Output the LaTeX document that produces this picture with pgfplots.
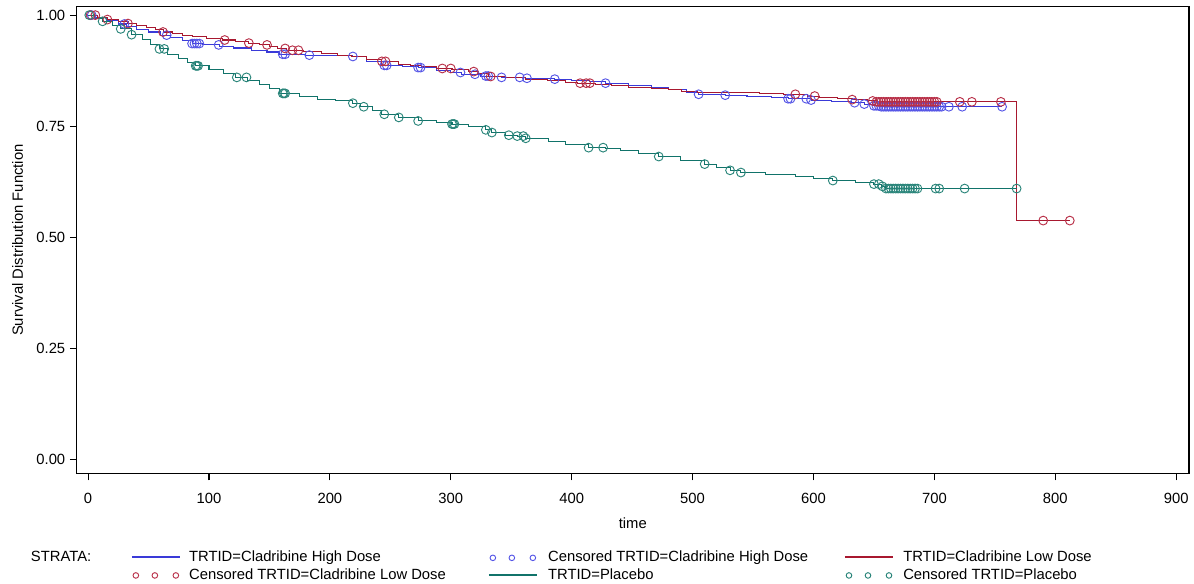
\documentclass[border=0pt]{standalone}
\usepackage{pgfplots}
\pgfplotsset{compat=1.18}
\usepackage{fontspec}
\setmainfont{Liberation Sans}
\usetikzlibrary{calc}
\definecolor{hiline}{HTML}{3A3AD8}
\definecolor{himark}{HTML}{5555E6}
\definecolor{loline}{HTML}{A8182F}
\definecolor{lomark}{HTML}{B83048}
\definecolor{plline}{HTML}{11736A}
\definecolor{plmark}{HTML}{2A857A}
\newcommand{\fs}{\fontsize{11.1}{13}\selectfont}
\begin{document}
\begin{tikzpicture}
\begin{axis}[
  name=ax,
  scale only axis,
  width=834.3pt, height=350.25pt,
  xmin=-9.5, xmax=910.6, ymin=-0.031, ymax=1.019,
  xtick={0,100,...,900},
  ytick={0,0.25,0.5,0.75,1},
  xtick pos=bottom, ytick pos=left,
  tick align=outside,
  major tick length=5pt,
  axis line style={line width=0.8pt},
  tick style={line width=0.8pt, black},
  /pgf/number format/assume math mode=true,
  tick label style={font=\fs},
  yticklabel style={/pgf/number format/fixed, /pgf/number format/fixed zerofill, /pgf/number format/precision=2},
  xticklabel style={yshift=-6pt},
  xlabel={time}, ylabel={Survival Distribution Function},
  label style={font=\fs},
  xlabel style={at={(axis description cs:0.5,-0.107)}, anchor=center},
  ylabel style={at={(axis description cs:-0.053,0.5)}, anchor=center},
  legend columns=4,
  legend cell align=left,
  legend style={draw=none, fill=none, inner sep=0pt, outer sep=0pt, column sep=0pt, row sep=2.5pt,
    at={(axis description cs:-0.041,-0.165)}, anchor=north west,
    font=\fs, nodes={inner sep=0pt, text height=8.3pt, text depth=2.4pt}},
]
% legend
\addlegendimage{empty legend}
\addlegendentry{\makebox[75pt][l]{STRATA:}}
\addlegendimage{legend image code/.code={\path (0pt,0pt) (42.75pt,0pt); \draw[draw=hiline, line width=1.3pt] (0pt,0.4pt) -- (36pt,0.4pt);}}
\addlegendentry{\makebox[224.25pt][l]{TRTID=Cladribine High Dose}}
\addlegendimage{legend image code/.code={\path (0pt,0pt) (44.25pt,0pt); \draw[draw=himark, line width=0.7pt] plot[only marks, mark=o, mark size=2.1pt] coordinates {(3pt,0pt) (17.25pt,0pt) (33pt,0pt)};}}
\addlegendentry{\makebox[222pt][l]{Censored TRTID=Cladribine High Dose}}
\addlegendimage{legend image code/.code={\path (0pt,0pt) (43.5pt,0pt); \draw[draw=loline, line width=1.3pt] (0pt,0.4pt) -- (36pt,0.4pt);}}
\addlegendentry{TRTID=Cladribine Low Dose}
\addlegendimage{empty legend}
\addlegendentry{\makebox[75pt][l]{}}
\addlegendimage{legend image code/.code={\path (0pt,0pt) (42.75pt,0pt); \draw[draw=lomark, line width=0.7pt] plot[only marks, mark=o, mark size=2.1pt] coordinates {(3pt,0pt) (17.25pt,0pt) (33pt,0pt)};}}
\addlegendentry{\makebox[224.25pt][l]{Censored TRTID=Cladribine Low Dose}}
\addlegendimage{legend image code/.code={\path (0pt,0pt) (44.25pt,0pt); \draw[draw=plline, line width=1.1pt] (0pt,0.4pt) -- (36pt,0.4pt);}}
\addlegendentry{\makebox[222pt][l]{TRTID=Placebo}}
\addlegendimage{legend image code/.code={\path (0pt,0pt) (43.5pt,0pt); \draw[draw=plmark, line width=0.7pt] plot[only marks, mark=o, mark size=2.1pt] coordinates {(3pt,0pt) (17.25pt,0pt) (33pt,0pt)};}}
\addlegendentry{Censored TRTID=Placebo}

% High dose
\addplot[const plot, hiline, line width=0.8pt] coordinates {
(0,1.000) (5,0.994) (15,0.988) (25,0.980) (32,0.975) (40,0.968) (50,0.962) (60,0.955) (68,0.950) (78,0.943) (86,0.936) (95,0.933) (109,0.930) (120,0.926) (135,0.921) (148,0.917) (158,0.912) (180,0.910) (200,0.909) (219,0.907) (230,0.896) (243,0.887) (260,0.884) (273,0.882) (288,0.876) (300,0.871) (309,0.867) (325,0.863) (342,0.860) (362,0.858) (386,0.856) (400,0.853) (415,0.850) (428,0.847) (447,0.842) (466,0.837) (480,0.832) (495,0.826) (505,0.822) (527,0.820) (545,0.816) (565,0.814) (579,0.812) (598,0.809) (615,0.806) (631,0.803) (642,0.800) (650,0.796) (656,0.794) (756,0.794)};
\addplot[only marks, mark=o, mark size=3.3pt, himark, mark options={line width=0.7pt}] coordinates {
(3,1.000) (30,0.980) (65,0.955) (86,0.936) (88,0.936) (90,0.936) (92,0.936) (108,0.933) (161,0.912) (163,0.912) (183,0.910) (219,0.907) (245,0.887) (247,0.887) (273,0.882) (275,0.882) (308,0.871) (320,0.867) (329,0.863) (331,0.863) (342,0.860) (357,0.860) (363,0.858) (386,0.856) (428,0.847) (505,0.822) (527,0.820) (579,0.812) (581,0.812) (594,0.812) (598,0.809) (634,0.803) (642,0.800)
(650,0.796) (652,0.796) (654,0.796)
(656,0.794) (658,0.794) (660,0.794) (662,0.794) (664,0.794) (666,0.794) (668,0.794) (670,0.794) (672,0.794) (674,0.794) (676,0.794) (678,0.794) (680,0.794) (682,0.794) (684,0.794) (686,0.794) (688,0.794) (690,0.794) (692,0.794) (694,0.794) (696,0.794) (698,0.794) (700,0.794) (702,0.794) (704,0.794) (706,0.794)
(712,0.794) (723,0.794) (756,0.794)};

% Low dose
\addplot[const plot, loline, line width=0.8pt] coordinates {
(0,1.000) (8,0.994) (16,0.990) (25,0.985) (33,0.981) (40,0.977) (48,0.972) (56,0.968) (62,0.962) (70,0.958) (78,0.955) (86,0.951) (98,0.948) (111,0.944) (122,0.941) (133,0.937) (142,0.933) (150,0.929) (157,0.925) (164,0.921) (178,0.918) (193,0.914) (206,0.910) (218,0.906) (230,0.901) (243,0.896) (257,0.890) (267,0.887) (276,0.884) (288,0.880) (301,0.877) (315,0.873) (323,0.868) (331,0.862) (345,0.859) (362,0.856) (380,0.852) (395,0.849) (405,0.847) (420,0.844) (433,0.841) (447,0.838) (466,0.835) (480,0.832) (491,0.829) (504,0.826) (530,0.825) (555,0.823) (575,0.822) (595,0.818) (605,0.815) (620,0.812) (632,0.810) (645,0.807) (652,0.805) (768,0.538) (812,0.538)};
\addplot[only marks, mark=o, mark size=3.3pt, lomark, mark options={line width=0.7pt}] coordinates {
(2,1.000) (6,1.000) (16,0.990) (33,0.981) (62,0.962) (113,0.944) (133,0.937) (148,0.933) (163,0.925) (169,0.921) (174,0.921) (243,0.896) (246,0.896) (293,0.880) (300,0.880) (319,0.873) (333,0.862) (407,0.847) (412,0.847) (415,0.847) (585,0.822) (601,0.818) (632,0.810) (649,0.807)
(652,0.805) (654,0.805) (656,0.805) (658,0.805) (660,0.805) (662,0.805) (664,0.805) (666,0.805) (668,0.805) (670,0.805) (672,0.805) (674,0.805) (676,0.805) (678,0.805) (680,0.805) (682,0.805) (684,0.805) (686,0.805) (688,0.805) (690,0.805) (692,0.805) (694,0.805) (696,0.805) (698,0.805) (700,0.805) (702,0.805)
(721,0.805) (731,0.805) (755,0.805) (790,0.538) (812,0.538)};

% Placebo
\addplot[const plot, plline, line width=0.8pt] coordinates {
(0,1.000) (5,0.993) (12,0.986) (20,0.977) (27,0.969) (36,0.956) (45,0.945) (52,0.934) (59,0.924) (66,0.912) (75,0.903) (82,0.894) (89,0.886) (100,0.878) (112,0.868) (122,0.860) (132,0.852) (142,0.843) (150,0.836) (158,0.824) (175,0.817) (190,0.811) (205,0.807) (219,0.802) (225,0.794) (235,0.785) (243,0.777) (257,0.770) (273,0.762) (288,0.758) (301,0.755) (315,0.749) (329,0.742) (334,0.736) (345,0.730) (355,0.728) (362,0.723) (381,0.716) (395,0.710) (414,0.702) (428,0.701) (440,0.695) (455,0.689) (472,0.682) (490,0.674) (510,0.665) (520,0.658) (531,0.651) (540,0.646) (560,0.642) (585,0.637) (600,0.632) (616,0.628) (635,0.624) (650,0.620) (656,0.615) (660,0.610) (768,0.610)};
\addplot[only marks, mark=o, mark size=3.3pt, plmark, mark options={line width=0.7pt}] coordinates {
(1,1.000) (12,0.986) (27,0.969) (36,0.956) (59,0.924) (63,0.924) (89,0.886) (90,0.886) (91,0.886) (123,0.860) (131,0.860) (161,0.824) (162,0.824) (163,0.824) (219,0.802) (228,0.794) (245,0.777) (257,0.770) (273,0.762) (301,0.755) (302,0.755) (303,0.755) (329,0.742) (334,0.736) (348,0.730) (355,0.728) (360,0.728) (362,0.723) (414,0.702) (426,0.702) (472,0.682) (510,0.665) (531,0.651) (540,0.646) (616,0.628) (650,0.620) (654,0.620) (657,0.615)
(660,0.610) (662,0.610) (664,0.610) (666,0.610) (668,0.610) (670,0.610) (672,0.610) (674,0.610) (676,0.610) (678,0.610) (680,0.610) (682,0.610) (684,0.610)
(686,0.610) (701,0.610) (704,0.610) (725,0.610) (768,0.610)};
\end{axis}
\pgfresetboundingbox
\path[use as bounding box] ($(ax.south west)+(-57.45pt,-82.7pt)$) rectangle ($(ax.north east)+(3.75pt,5pt)$);
\end{tikzpicture}
\end{document}
